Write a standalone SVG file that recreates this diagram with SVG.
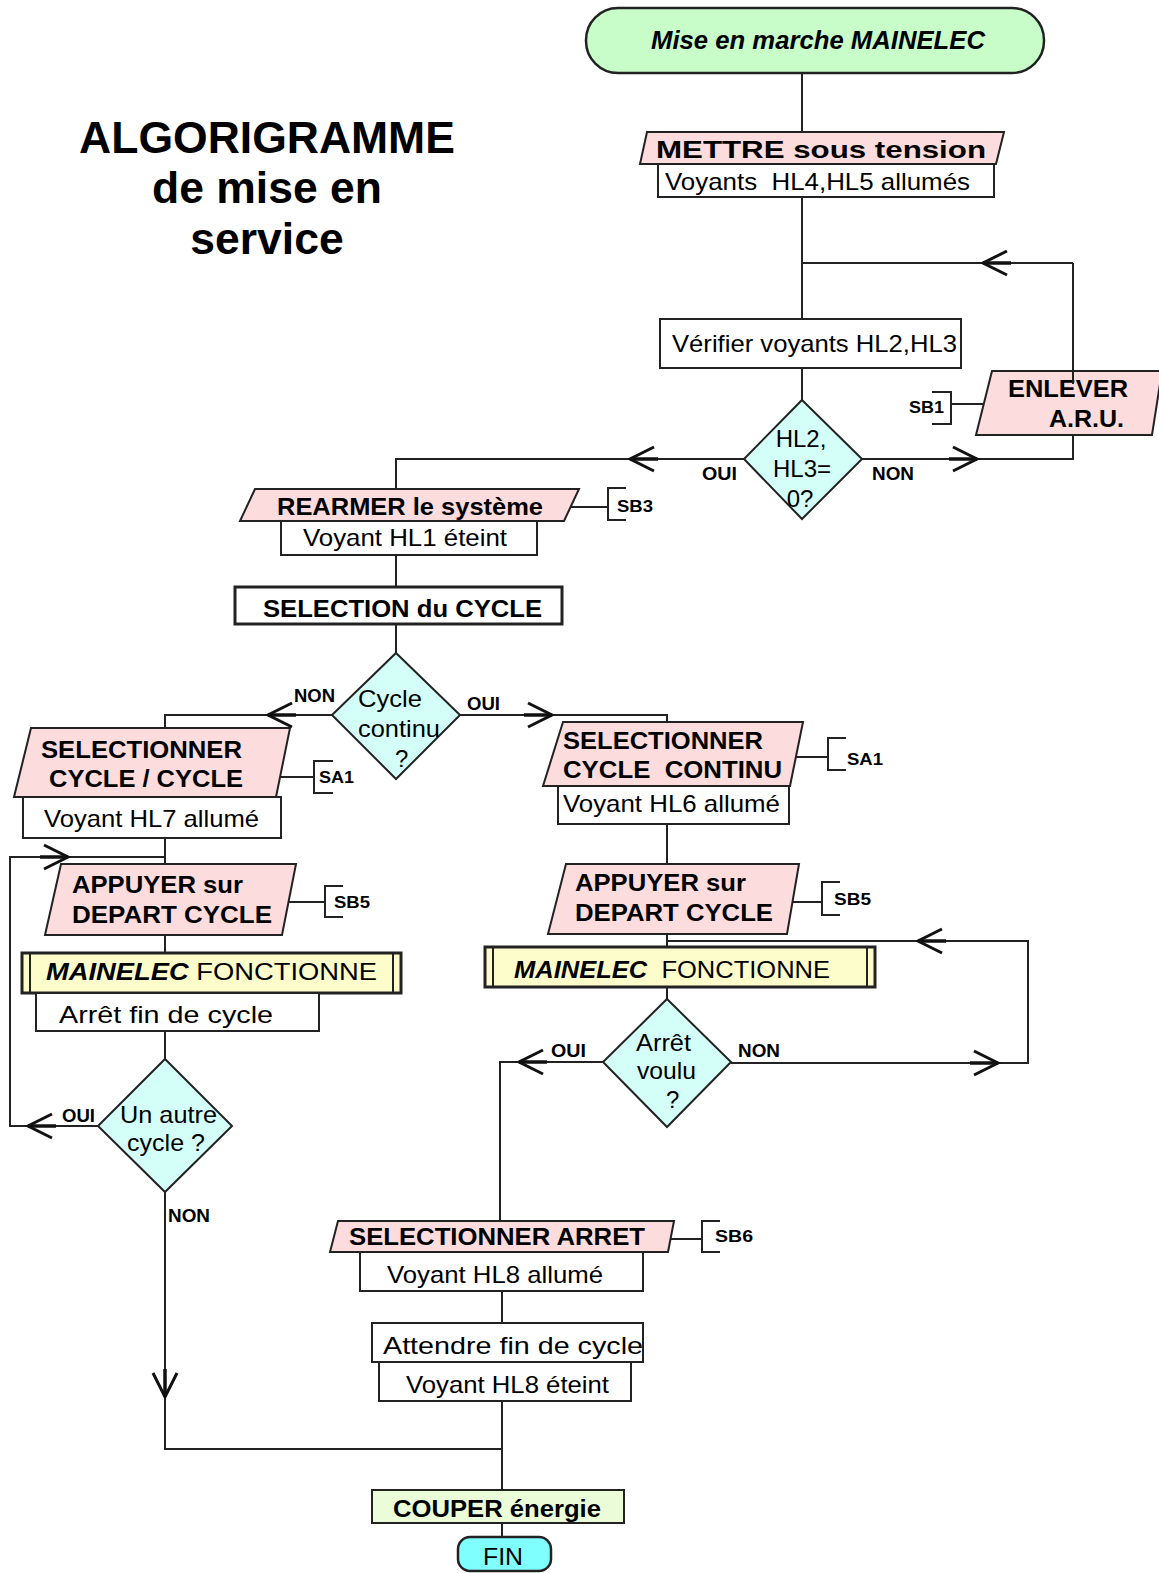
<svg xmlns="http://www.w3.org/2000/svg" xmlns:xlink="http://www.w3.org/1999/xlink" width="1159" height="1573" viewBox="0 0 1159 1573">
<style>
.ln{fill:none;stroke:#222;stroke-width:2}
.pk{fill:#fcdcdc;stroke:#222;stroke-width:2}
.wb{fill:#fff;stroke:#222;stroke-width:2}
.dm{fill:#d4fff8;stroke:#222;stroke-width:2}
.yb{fill:#fdfdcb;stroke:#222;stroke-width:3}
text{font-family:"Liberation Sans",Arial,sans-serif;fill:#000}
.b{font-weight:bold;font-size:24px}
.r{font-size:24px}
.s{font-weight:bold;font-size:18px}
.k{font-weight:bold;font-size:17px}
.ttl{font-weight:bold;font-size:44.5px}
</style>
<defs>
<g id="ah"><path d="M-24,-12 L0,0 L-24,12" fill="none" stroke="#111" stroke-width="3"/><path d="M-28,0 H0" stroke="#111" stroke-width="3.5"/></g>
</defs>
<rect width="1159" height="1573" fill="#fff"/>

<g id="title">
<text class="ttl" x="267" y="153" text-anchor="middle">ALGORIGRAMME</text>
<text class="ttl" x="267" y="203" text-anchor="middle">de mise en</text>
<text class="ttl" x="267" y="254" text-anchor="middle">service</text>
</g>

<g id="start">
<rect x="586" y="8" width="458" height="65" rx="32" fill="#c8fcc8" stroke="#222" stroke-width="2.5"/>
<text x="651" y="49" font-size="25" font-weight="bold" font-style="italic" textLength="334" lengthAdjust="spacingAndGlyphs">Mise en marche MAINELEC</text>
</g>

<g id="mettre">
<polygon class="pk" points="647,132 1004,132 996,164 640,164"/>
<text class="b" x="656" y="158" font-size="27" textLength="330" lengthAdjust="spacingAndGlyphs">METTRE sous tension</text>
<rect class="wb" x="658" y="164" width="336" height="33"/>
<text class="r" x="665" y="190" textLength="305" lengthAdjust="spacingAndGlyphs" xml:space="preserve">Voyants  HL4,HL5 allumés</text>
</g>

<g id="verifier">
<rect class="wb" x="660" y="319" width="301" height="49"/>
<text class="r" x="672" y="352" textLength="285" lengthAdjust="spacingAndGlyphs">Vérifier voyants HL2,HL3</text>
</g>

<g id="dec-hl">
<polygon class="dm" points="802,400 862,459 802,519 744,459"/>
<text class="r" x="801" y="447" text-anchor="middle">HL2,</text>
<text class="r" x="802" y="477" text-anchor="middle">HL3=</text>
<text class="r" x="800" y="507" text-anchor="middle">0?</text>
</g>

<g id="enlever">
<polygon class="pk" points="992,371 1162,371 1152,435 976,435"/>
<text class="b" x="1008" y="397" textLength="120" lengthAdjust="spacingAndGlyphs">ENLEVER</text>
<text class="b" x="1049" y="427" textLength="75" lengthAdjust="spacingAndGlyphs">A.R.U.</text>
</g>

<g id="rearmer">
<polygon class="pk" points="255,489 579,489 564,521 240,521"/>
<text class="b" x="277" y="515" textLength="266" lengthAdjust="spacingAndGlyphs">REARMER le système</text>
<rect class="wb" x="281" y="521" width="256" height="34"/>
<text class="r" x="303" y="546" textLength="204" lengthAdjust="spacingAndGlyphs">Voyant HL1 éteint</text>
</g>

<g id="selection">
<rect x="235" y="587" width="327" height="37" fill="#fff" stroke="#222" stroke-width="3"/>
<text class="b" x="263" y="617" textLength="279" lengthAdjust="spacingAndGlyphs">SELECTION du CYCLE</text>
</g>

<g id="dec-cycle">
<polygon class="dm" points="396,653 460,715 396,779 332,715"/>
<text class="r" x="358" y="707" textLength="64" lengthAdjust="spacingAndGlyphs">Cycle</text>
<text class="r" x="358" y="737" textLength="82" lengthAdjust="spacingAndGlyphs">continu</text>
<text class="r" x="395" y="767">?</text>
</g>

<g id="sel-cc">
<polygon class="pk" points="31,728 290,728 276,797 14,797"/>
<text class="b" x="41" y="758" textLength="201" lengthAdjust="spacingAndGlyphs">SELECTIONNER</text>
<text class="b" x="49" y="787" textLength="194" lengthAdjust="spacingAndGlyphs">CYCLE / CYCLE</text>
<rect class="wb" x="23" y="797" width="258" height="41"/>
<text class="r" x="44" y="827" textLength="215" lengthAdjust="spacingAndGlyphs">Voyant HL7 allumé</text>
</g>

<g id="appuyer-l">
<polygon class="pk" points="61,864 296,864 282,935 45,935"/>
<text class="b" x="72" y="893" textLength="171" lengthAdjust="spacingAndGlyphs">APPUYER sur</text>
<text class="b" x="72" y="923" textLength="200" lengthAdjust="spacingAndGlyphs">DEPART CYCLE</text>
</g>

<g id="fonct-l">
<rect class="yb" x="22" y="953" width="379" height="40"/>
<path class="ln" d="M30,953 V993 M393,953 V993"/>
<text x="46" y="980" font-size="24" textLength="331" lengthAdjust="spacingAndGlyphs"><tspan font-weight="bold" font-style="italic">MAINELEC</tspan> FONCTIONNE</text>
<rect class="wb" x="36" y="993" width="283" height="38"/>
<text class="r" x="59" y="1023" textLength="214" lengthAdjust="spacingAndGlyphs">Arrêt fin de cycle</text>
</g>

<g id="dec-autre">
<polygon class="dm" points="165,1059 232,1126 165,1192 98,1126"/>
<text class="r" x="120" y="1123" textLength="97" lengthAdjust="spacingAndGlyphs">Un autre</text>
<text class="r" x="127" y="1151" textLength="78" lengthAdjust="spacingAndGlyphs">cycle ?</text>
</g>

<g id="sel-continu">
<polygon class="pk" points="563,722 803,722 790,786 543,786"/>
<text class="b" x="563" y="749" textLength="200" lengthAdjust="spacingAndGlyphs">SELECTIONNER</text>
<text class="b" x="563" y="778" textLength="219" lengthAdjust="spacingAndGlyphs" xml:space="preserve">CYCLE  CONTINU</text>
<rect class="wb" x="558" y="786" width="231" height="38"/>
<text class="r" x="563" y="812" textLength="217" lengthAdjust="spacingAndGlyphs">Voyant HL6 allumé</text>
</g>

<g id="appuyer-r">
<polygon class="pk" points="566,864 799,864 787,934 548,934"/>
<text class="b" x="575" y="891" textLength="171" lengthAdjust="spacingAndGlyphs">APPUYER sur</text>
<text class="b" x="575" y="921" textLength="198" lengthAdjust="spacingAndGlyphs">DEPART CYCLE</text>
</g>

<g id="fonct-r">
<rect class="yb" x="485" y="947" width="390" height="40"/>
<path class="ln" d="M493,947 V987 M867,947 V987"/>
<text x="514" y="978" font-size="24" textLength="316" lengthAdjust="spacingAndGlyphs" xml:space="preserve"><tspan font-weight="bold" font-style="italic">MAINELEC</tspan>  FONCTIONNE</text>
</g>

<g id="dec-arret">
<polygon class="dm" points="667,999 731,1062 667,1127 603,1062"/>
<text class="r" x="636" y="1051" textLength="55" lengthAdjust="spacingAndGlyphs">Arrêt</text>
<text class="r" x="637" y="1079" textLength="59" lengthAdjust="spacingAndGlyphs">voulu</text>
<text class="r" x="666" y="1108">?</text>
</g>

<g id="sel-arret">
<polygon class="pk" points="338,1221 674,1221 668,1252 330,1252"/>
<text class="b" x="349" y="1245" textLength="296" lengthAdjust="spacingAndGlyphs">SELECTIONNER ARRET</text>
<rect class="wb" x="360" y="1252" width="283" height="39"/>
<text class="r" x="387" y="1283" textLength="216" lengthAdjust="spacingAndGlyphs">Voyant HL8 allumé</text>
</g>

<g id="attendre">
<rect class="wb" x="372" y="1323" width="271" height="39"/>
<text class="r" x="383" y="1354" textLength="260" lengthAdjust="spacingAndGlyphs">Attendre fin de cycle</text>
<rect class="wb" x="379" y="1362" width="252" height="39"/>
<text class="r" x="406" y="1393" textLength="203" lengthAdjust="spacingAndGlyphs">Voyant HL8 éteint</text>
</g>

<g id="couper">
<rect x="372" y="1490" width="252" height="33" fill="#ebfcd8" stroke="#222" stroke-width="2"/>
<text class="b" x="393" y="1517" textLength="208" lengthAdjust="spacingAndGlyphs">COUPER énergie</text>
</g>

<g id="fin">
<rect x="458" y="1537" width="93" height="34" rx="12" fill="#80ffff" stroke="#222" stroke-width="2.5"/>
<text class="r" x="483" y="1565" textLength="40" lengthAdjust="spacingAndGlyphs">FIN</text>
</g>

<g id="connectors">
<path class="ln" d="M802,73 V132"/>
<path class="ln" d="M802,197 V319"/>
<path class="ln" d="M1073,263 H802"/>
<path class="ln" d="M802,368 V400"/>
<path class="ln" d="M744,459 H396 V489"/>
<path class="ln" d="M862,459 H1073 V435"/>
<path class="ln" d="M1073,384 V263"/>
<path class="ln" d="M983,404 H951 M932,392 H951 V424 H932"/>
<path class="ln" d="M396,555 V587"/>
<path class="ln" d="M571,507 H608 M626,488 H608 V520 H626"/>
<path class="ln" d="M396,624 V653"/>
<path class="ln" d="M332,715 H165 V728"/>
<path class="ln" d="M460,715 H667 V722"/>
<path class="ln" d="M280,777 H314 M333,761 H314 V793 H333"/>
<path class="ln" d="M165,838 V864"/>
<path class="ln" d="M98,1126 H10 V857 H165"/>
<path class="ln" d="M165,935 V953"/>
<path class="ln" d="M288,902 H325 M343,886 H325 V917 H343"/>
<path class="ln" d="M165,1031 V1059"/>
<path class="ln" d="M165,1192 V1449 H502"/>
<path class="ln" d="M667,824 V864"/>
<path class="ln" d="M796,757 H828 M846,738 H828 V770 H846"/>
<path class="ln" d="M792,902 H822 M840,882 H822 V915 H840"/>
<path class="ln" d="M667,934 V947"/>
<path class="ln" d="M731,1063 H1028 V941 H667"/>
<path class="ln" d="M667,987 V999"/>
<path class="ln" d="M603,1062 H500 V1221"/>
<path class="ln" d="M670,1239 H702 M720,1221 H702 V1252 H720"/>
<path class="ln" d="M502,1291 V1323"/>
<path class="ln" d="M502,1401 V1490"/>
<path class="ln" d="M502,1523 V1537"/>
<use xlink:href="#ah" href="#ah" transform="translate(983,263) rotate(180)"/>
<use xlink:href="#ah" href="#ah" transform="translate(630,459) rotate(180)"/>
<use xlink:href="#ah" href="#ah" transform="translate(977,459)"/>
<use xlink:href="#ah" href="#ah" transform="translate(268,715) rotate(180)"/>
<use xlink:href="#ah" href="#ah" transform="translate(552,715)"/>
<use xlink:href="#ah" href="#ah" transform="translate(68,857)"/>
<use xlink:href="#ah" href="#ah" transform="translate(28,1126) rotate(180)"/>
<use xlink:href="#ah" href="#ah" transform="translate(165,1397) rotate(90)"/>
<use xlink:href="#ah" href="#ah" transform="translate(918,941) rotate(180)"/>
<use xlink:href="#ah" href="#ah" transform="translate(519,1062) rotate(180)"/>
<use xlink:href="#ah" href="#ah" transform="translate(998,1063)"/>
<text class="s" x="702" y="480" textLength="35" lengthAdjust="spacingAndGlyphs">OUI</text>
<text class="s" x="872" y="480" textLength="42" lengthAdjust="spacingAndGlyphs">NON</text>
<text class="k" x="909" y="413" textLength="35" lengthAdjust="spacingAndGlyphs">SB1</text>
<text class="k" x="617" y="512" textLength="36" lengthAdjust="spacingAndGlyphs">SB3</text>
<text class="s" x="294" y="702" textLength="41" lengthAdjust="spacingAndGlyphs">NON</text>
<text class="s" x="467" y="710" textLength="33" lengthAdjust="spacingAndGlyphs">OUI</text>
<text class="k" x="319" y="783" textLength="35" lengthAdjust="spacingAndGlyphs">SA1</text>
<text class="k" x="334" y="908" textLength="36" lengthAdjust="spacingAndGlyphs">SB5</text>
<text class="s" x="62" y="1122" textLength="33" lengthAdjust="spacingAndGlyphs">OUI</text>
<text class="s" x="168" y="1222" textLength="42" lengthAdjust="spacingAndGlyphs">NON</text>
<text class="k" x="847" y="765" textLength="36" lengthAdjust="spacingAndGlyphs">SA1</text>
<text class="k" x="834" y="905" textLength="37" lengthAdjust="spacingAndGlyphs">SB5</text>
<text class="s" x="551" y="1057" textLength="35" lengthAdjust="spacingAndGlyphs">OUI</text>
<text class="s" x="738" y="1057" textLength="42" lengthAdjust="spacingAndGlyphs">NON</text>
<text class="k" x="715" y="1242" textLength="38" lengthAdjust="spacingAndGlyphs">SB6</text>
</g>
</svg>
